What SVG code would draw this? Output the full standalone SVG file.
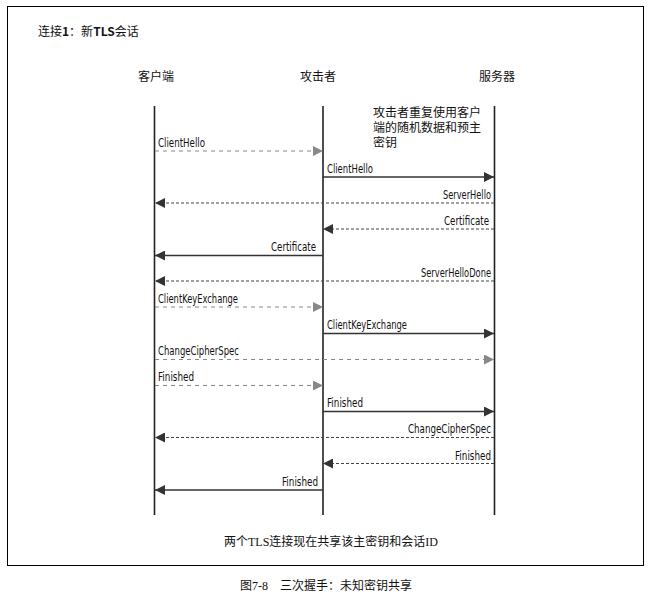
<svg xmlns="http://www.w3.org/2000/svg" width="655" height="601" viewBox="0 0 655 601">
<defs>
<style>
.frame{fill:none;stroke:#000;stroke-width:1}
.life{stroke:#222;stroke-width:1.6}
.solid{stroke:#333;stroke-width:1.3;fill:none}
.dashd{stroke:#444;stroke-width:1.2;stroke-dasharray:3 2;fill:none}
.dashl{stroke:#888;stroke-width:1.2;stroke-dasharray:4 4;fill:none}
.hd{font-family:"Noto Sans CJK SC","Liberation Sans",sans-serif;font-size:12px;fill:#111}
.lbl{font-family:"DejaVu Sans Condensed","Liberation Sans Narrow","Liberation Sans",sans-serif;font-size:11.5px;fill:#111}
.sr{font-family:"Liberation Serif","Noto Sans CJK SC",serif;font-size:12px;fill:#111}
</style>
<marker id="ad" viewBox="0 0 10 10" refX="10" refY="5" markerWidth="10" markerHeight="10" markerUnits="userSpaceOnUse" orient="auto"><path d="M0,0 L10,5 L0,10 z" fill="#333"/></marker>
<marker id="al" viewBox="0 0 10 10" refX="10" refY="5" markerWidth="10" markerHeight="10" markerUnits="userSpaceOnUse" orient="auto"><path d="M0,0 L10,5 L0,10 z" fill="#888"/></marker>
</defs>
<rect class="frame" x="7.5" y="6.5" width="636" height="559" fill="#fff"/>
<text class="hd" x="38" y="36">连接<tspan font-weight="bold">1</tspan>：新<tspan font-weight="bold">TLS</tspan>会话</text>

<g id="client"><text class="hd" x="156" y="81" text-anchor="middle">客户端</text><line class="life" x1="154.5" y1="106" x2="154.5" y2="515"/></g>
<g id="attacker"><text class="hd" x="318" y="81" text-anchor="middle">攻击者</text><line class="life" x1="323" y1="106" x2="323" y2="515"/></g>
<g id="server"><text class="hd" x="497" y="81" text-anchor="middle">服务器</text><line class="life" x1="494.5" y1="106" x2="494.5" y2="515"/></g>
<g id="note"><text class="sr" x="373" y="117">攻击者重复使用客户</text><text class="sr" x="373" y="132">端的随机数据和预主</text><text class="sr" x="373" y="147">密钥</text></g>

<g id="connectors">
<line class="dashl" x1="155" y1="151" x2="323" y2="151" marker-end="url(#al)"/>
<line class="solid" x1="323" y1="177" x2="494" y2="177" marker-end="url(#ad)"/>
<line class="dashd" x1="494" y1="203" x2="155" y2="203" marker-end="url(#ad)"/>
<line class="dashd" x1="494" y1="229" x2="323" y2="229" marker-end="url(#ad)"/>
<line class="solid" x1="323" y1="255.5" x2="155" y2="255.5" marker-end="url(#ad)"/>
<line class="dashd" x1="494" y1="281" x2="155" y2="281" marker-end="url(#ad)"/>
<line class="dashl" x1="155" y1="307" x2="323" y2="307" marker-end="url(#al)"/>
<line class="solid" x1="323" y1="333.5" x2="494" y2="333.5" marker-end="url(#ad)"/>
<line class="dashl" x1="155" y1="359.5" x2="494" y2="359.5" marker-end="url(#al)"/>
<line class="dashl" x1="155" y1="385.5" x2="323" y2="385.5" marker-end="url(#al)"/>
<line class="solid" x1="323" y1="411.5" x2="494" y2="411.5" marker-end="url(#ad)"/>
<line class="dashd" x1="494" y1="437.5" x2="155" y2="437.5" marker-end="url(#ad)"/>
<line class="dashd" x1="494" y1="463.5" x2="323" y2="463.5" marker-end="url(#ad)"/>
<line class="solid" x1="323" y1="490" x2="155" y2="490" marker-end="url(#ad)"/>
<text class="lbl" x="158" y="147" textLength="47" lengthAdjust="spacingAndGlyphs">ClientHello</text>
<text class="lbl" x="327" y="173" textLength="46" lengthAdjust="spacingAndGlyphs">ClientHello</text>
<text class="lbl" x="491" y="199" text-anchor="end" textLength="48" lengthAdjust="spacingAndGlyphs">ServerHello</text>
<text class="lbl" x="489" y="225" text-anchor="end" textLength="45" lengthAdjust="spacingAndGlyphs">Certificate</text>
<text class="lbl" x="316" y="251" text-anchor="end" textLength="45" lengthAdjust="spacingAndGlyphs">Certificate</text>
<text class="lbl" x="491" y="277" text-anchor="end" textLength="70" lengthAdjust="spacingAndGlyphs">ServerHelloDone</text>
<text class="lbl" x="158" y="303" textLength="80" lengthAdjust="spacingAndGlyphs">ClientKeyExchange</text>
<text class="lbl" x="327" y="329" textLength="80" lengthAdjust="spacingAndGlyphs">ClientKeyExchange</text>
<text class="lbl" x="158" y="355" textLength="81" lengthAdjust="spacingAndGlyphs">ChangeCipherSpec</text>
<text class="lbl" x="158" y="381" textLength="36" lengthAdjust="spacingAndGlyphs">Finished</text>
<text class="lbl" x="327" y="407" textLength="36" lengthAdjust="spacingAndGlyphs">Finished</text>
<text class="lbl" x="491" y="433" text-anchor="end" textLength="83" lengthAdjust="spacingAndGlyphs">ChangeCipherSpec</text>
<text class="lbl" x="491" y="460" text-anchor="end" textLength="36" lengthAdjust="spacingAndGlyphs">Finished</text>
<text class="lbl" x="318" y="486" text-anchor="end" textLength="36" lengthAdjust="spacingAndGlyphs">Finished</text>
</g>

<text class="sr" x="331" y="546" text-anchor="middle">两个TLS连接现在共享该主密钥和会话ID</text>
<text class="sr" x="326" y="590" text-anchor="middle" font-size="14">图7-8　三次握手：未知密钥共享</text>
</svg>
